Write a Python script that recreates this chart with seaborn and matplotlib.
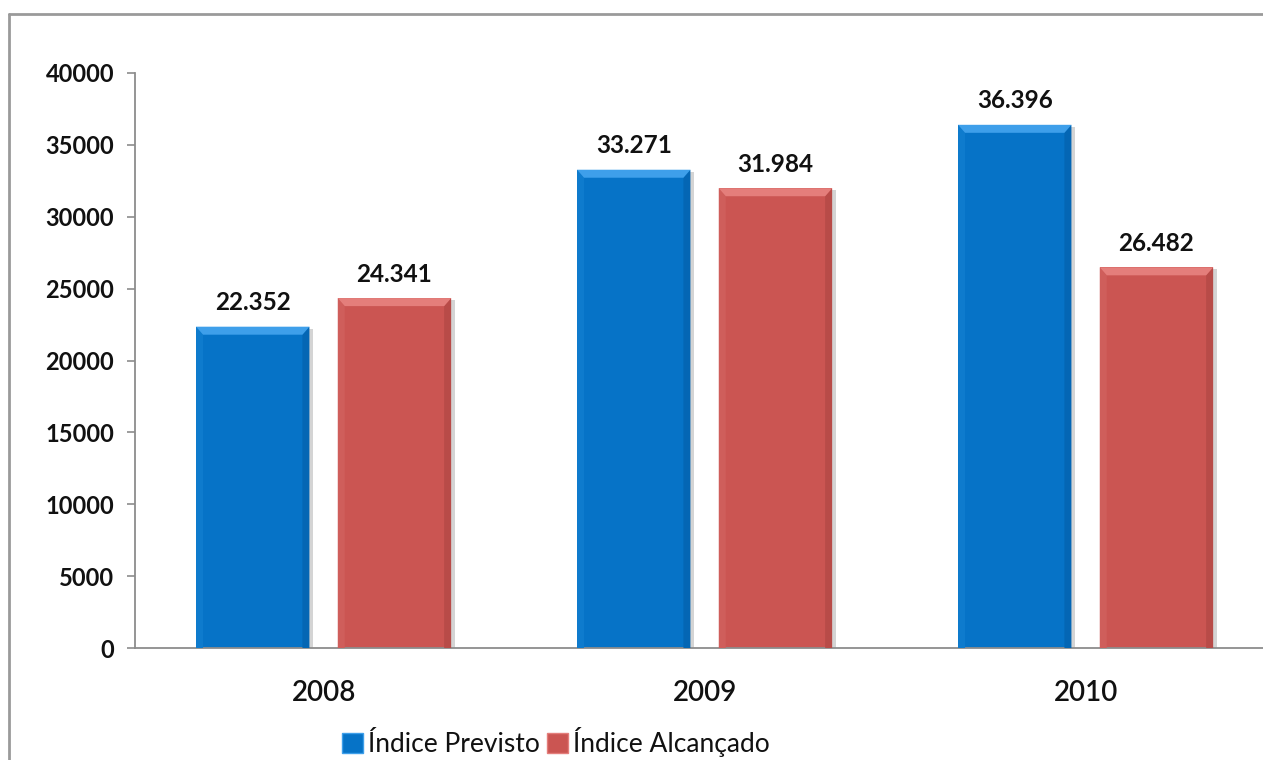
import matplotlib
matplotlib.use("Agg")
import matplotlib.pyplot as plt
import matplotlib.patheffects as pe
from matplotlib.patches import Polygon, Patch
from matplotlib.lines import Line2D
import seaborn as sns
import pandas as pd

# Data
years = ["2008", "2009", "2010"]
series_names = ["Índice Previsto", "Índice Alcançado"]
previsto = [22352, 33271, 36396]
alcancado = [24341, 31984, 26482]
y_ticks = [0, 5000, 10000, 15000, 20000, 25000, 30000, 35000, 40000]

colors = {"Índice Previsto": "#0673C7", "Índice Alcançado": "#CB5552"}
top_colors = {"Índice Previsto": "#3E9FEA", "Índice Alcançado": "#E47E7B"}
left_colors = {"Índice Previsto": "#0E7BCD", "Índice Alcançado": "#CF5E5B"}
right_colors = {"Índice Previsto": "#0466B4", "Índice Alcançado": "#B84B48"}

df = pd.DataFrame({
    "Ano": years * 2,
    "Série": [series_names[0]] * 3 + [series_names[1]] * 3,
    "Valor": previsto + alcancado,
})

sns.set_theme(style="white")
plt.rcParams["font.family"] = ["Lato", "DejaVu Sans"]

fig = plt.figure(figsize=(12.63, 7.6), dpi=100)
ax = fig.add_axes([135 / 1263, 1 - 648 / 760, 1143 / 1263, 575 / 760])

sns.barplot(data=df, x="Ano", y="Valor", hue="Série", palette=colors,
            width=0.744, gap=0.2, saturation=1, legend=False, ax=ax,
            edgecolor="none", linewidth=0)

ax.set_ylim(0, 40000)
ax.set_xlim(-0.495, 2.505)
ax.set_yticks(y_ticks)
ax.set_yticklabels([str(t) for t in y_ticks], fontsize=17, fontweight="bold")
ax.tick_params(axis="y", length=6, width=1.2, color="#8C8C8C", pad=9, left=True)
ax.tick_params(axis="x", length=0, pad=23, labelsize=20)
ax.set_xlabel("")
ax.set_ylabel("")
for lbl in ax.get_xticklabels():
    lbl.set_fontweight("semibold")
    lbl.set_color("#111111")
for lbl in ax.get_yticklabels():
    lbl.set_color("#111111")

for side in ["top", "right"]:
    ax.spines[side].set_visible(False)
for side in ["left", "bottom"]:
    ax.spines[side].set_color("#8C8C8C")
    ax.spines[side].set_linewidth(1.3)

# Bevel shading and value labels on each bar
bx = 7 / 381
by = 8 / 575 * 40000
bars = [p for p in ax.patches if p.get_height() > 0]
for bar in bars:
    x0, w, h = bar.get_x(), bar.get_width(), bar.get_height()
    fc = bar.get_facecolor()
    name = series_names[0] if fc[2] > fc[0] else series_names[1]
    bar.set_path_effects([pe.SimplePatchShadow(offset=(2.5, -1.5), alpha=0.25, shadow_rgbFace="#555555"),
                          pe.Normal()])
    ax.add_patch(Polygon([(x0, h), (x0 + bx, h - by), (x0 + bx, 0), (x0, 0)],
                         closed=True, facecolor=left_colors[name], edgecolor="none", zorder=3))
    ax.add_patch(Polygon([(x0 + w, h), (x0 + w - bx, h - by), (x0 + w - bx, 0), (x0 + w, 0)],
                         closed=True, facecolor=right_colors[name], edgecolor="none", zorder=3))
    ax.add_patch(Polygon([(x0, h), (x0 + w, h), (x0 + w - bx, h - by), (x0 + bx, h - by)],
                         closed=True, facecolor=top_colors[name], edgecolor="none", zorder=3))
    ax.annotate(f"{int(round(h)):,}".replace(",", "."), (x0 + w / 2, h),
                xytext=(0, 9), textcoords="offset points", ha="center", va="bottom",
                fontsize=17.5, fontweight="bold", color="#111111")

# Legend
handles = [Patch(facecolor=colors[n], edgecolor=top_colors[n], linewidth=1.0) for n in series_names]
fig.legend(handles, series_names, loc="center", bbox_to_anchor=(556 / 1263, 1 - 742 / 760),
           ncol=2, frameon=False, fontsize=19, handlelength=0.8, handleheight=0.8,
           handletextpad=0.2, columnspacing=0.25, borderaxespad=0, labelcolor="#111111")

# Chart area frame
fig.add_artist(Line2D([9 / 1263, 9 / 1263], [0, 1 - 14 / 760], transform=fig.transFigure,
                      color="#9A9A9A", linewidth=2))
fig.add_artist(Line2D([9 / 1263, 1], [1 - 14 / 760, 1 - 14 / 760], transform=fig.transFigure,
                      color="#9A9A9A", linewidth=2))

fig.savefig("out.png", dpi=100)
